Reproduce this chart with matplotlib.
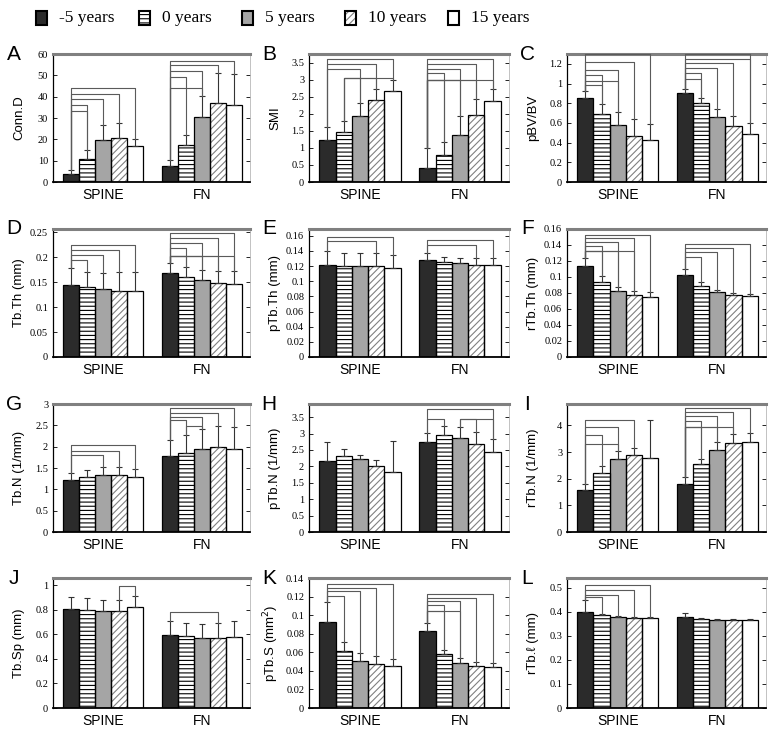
import numpy as np
import matplotlib
matplotlib.use('Agg')
import matplotlib.pyplot as plt
from matplotlib.patches import Rectangle

# groups and series
series = ['-5 years', '0 years', '5 years', '10 years', '15 years']
sites = ['SPINE', 'FN']

# A  Conn.D
A_spine = [3.8, 11.0, 19.5, 20.4, 16.7]
A_spine_err = [2.0, 3.8, 7.3, 7.2, 3.6]
A_fn = [7.5, 17.4, 30.7, 37.2, 36.3]
A_fn_err = [2.6, 4.4, 9.8, 14.0, 14.3]
A_brackets = [(0, 0, 4, 44.0), (0, 0, 3, 41.3), (0, 0, 2, 38.8), (0, 0, 1, 36.1), (0, 0, 1, 33.5),
              (1, 0, 4, 56.9), (1, 0, 3, 55.0), (1, 0, 2, 51.9), (1, 0, 1, 49.4), (1, 0, 2, 44.1)]

# B  SMI
B_spine = [1.23, 1.46, 1.94, 2.41, 2.68]
B_spine_err = [0.37, 0.32, 0.38, 0.30, 0.31]
B_fn = [0.42, 0.78, 1.37, 1.96, 2.36]
B_fn_err = [0.57, 0.40, 0.57, 0.48, 0.35]
B_brackets = [(0, 0, 4, 3.60), (0, 0, 3, 3.45), (0, 0, 2, 3.32), (0, 1, 2, 3.06), (0, 1, 3, 3.06), (0, 1, 4, 3.06),
              (1, 0, 4, 3.60), (1, 0, 3, 3.45), (1, 0, 2, 3.32), (1, 0, 1, 3.19),
              (1, 0, 1, 2.99), (1, 0, 2, 2.99), (1, 0, 3, 2.99), (1, 0, 4, 2.99)]

# C  pBV/BV
C_spine = [0.85, 0.69, 0.575, 0.47, 0.425]
C_spine_err = [0.07, 0.10, 0.14, 0.17, 0.16]
C_fn = [0.90, 0.80, 0.656, 0.568, 0.49]
C_fn_err = [0.04, 0.05, 0.085, 0.10, 0.11]
C_brackets = [(0, 0, 4, 1.30), (0, 0, 3, 1.214), (0, 0, 2, 1.133), (0, 0, 1, 1.082), (0, 0, 2, 1.03), (0, 0, 1, 0.983),
              (1, 0, 4, 1.30), (1, 0, 4, 1.248), (1, 0, 3, 1.207), (1, 0, 2, 1.156), (1, 0, 1, 1.105), (1, 0, 1, 1.05)]

# D  Tb.Th
D_spine = [0.1447, 0.1406, 0.1366, 0.1325, 0.1325]
D_spine_err = [0.034, 0.031, 0.032, 0.038, 0.038]
D_fn = [0.168, 0.161, 0.154, 0.148, 0.147]
D_fn_err = [0.020, 0.019, 0.021, 0.025, 0.025]
D_brackets = [(0, 0, 4, 0.224), (0, 0, 3, 0.214), (0, 0, 2, 0.2045), (0, 0, 1, 0.194),
              (1, 0, 4, 0.248), (1, 0, 3, 0.2398), (1, 0, 2, 0.2296), (1, 0, 1, 0.2194),
              (1, 0, 1, 0.2024), (1, 0, 2, 0.2024), (1, 0, 3, 0.2024), (1, 0, 4, 0.2024)]

# E  pTb.Th
E_spine = [0.122, 0.1198, 0.1198, 0.1198, 0.118]
E_spine_err = [0.018, 0.017, 0.017, 0.017, 0.0173]
E_fn = [0.1278, 0.1256, 0.124, 0.122, 0.122]
E_fn_err = [0.010, 0.007, 0.007, 0.009, 0.009]
E_brackets = [(0, 0, 4, 0.1587), (0, 0, 3, 0.153), (1, 0, 4, 0.155), (1, 0, 3, 0.1485)]

# F  rTb.Th
F_spine = [0.114, 0.094, 0.083, 0.078, 0.0754]
F_spine_err = [0.010, 0.0075, 0.005, 0.005, 0.0055]
F_fn = [0.1025, 0.0888, 0.0817, 0.078, 0.0767]
F_fn_err = [0.0075, 0.0055, 0.0025, 0.0015, 0.002]
F_brackets = [(0, 0, 4, 0.153), (0, 0, 3, 0.1488), (0, 0, 2, 0.1433), (0, 0, 1, 0.1383),
              (0, 0, 1, 0.132), (0, 0, 2, 0.132), (0, 0, 3, 0.132),
              (1, 0, 4, 0.1413), (1, 0, 3, 0.136), (1, 0, 2, 0.1308), (1, 0, 1, 0.1254)]

# G  Tb.N
G_spine = [1.22, 1.283, 1.34, 1.34, 1.30]
G_spine_err = [0.16, 0.16, 0.18, 0.18, 0.165]
G_fn = [1.77, 1.86, 1.95, 1.99, 1.95]
G_fn_err = [0.38, 0.41, 0.47, 0.50, 0.50]
G_brackets = [(0, 0, 4, 2.03), (0, 0, 3, 1.91), (0, 0, 2, 1.795),
              (1, 0, 4, 2.90), (1, 0, 3, 2.78), (1, 0, 2, 2.70), (1, 0, 1, 2.62), (1, 1, 2, 2.49)]

# H  pTb.N
H_spine = [2.17, 2.33, 2.21, 2.01, 1.82]
H_spine_err = [0.58, 0.20, 0.14, 0.18, 0.94]
H_fn = [2.73, 2.96, 2.86, 2.67, 2.45]
H_fn_err = [0.30, 0.27, 0.33, 0.37, 0.39]
H_brackets = [(1, 0, 4, 3.745), (1, 0, 1, 3.44), (1, 2, 3, 3.44), (1, 2, 4, 3.44)]

# I  rTb.N
I_spine = [1.59, 2.22, 2.72, 2.87, 2.79]
I_spine_err = [0.22, 0.24, 0.30, 0.28, 1.40]
I_fn = [1.81, 2.56, 3.09, 3.35, 3.37]
I_fn_err = [0.25, 0.19, 0.29, 0.34, 0.35]
I_brackets = [(0, 0, 3, 4.19), (0, 0, 2, 3.94), (0, 0, 1, 3.65), (0, 0, 2, 3.31),
              (1, 0, 4, 4.65), (1, 0, 3, 4.50), (1, 0, 2, 4.34), (1, 0, 1, 4.16),
              (1, 0, 1, 3.94), (1, 0, 2, 3.94), (1, 0, 3, 3.94)]

# J  Tb.Sp
J_spine = [0.81, 0.80, 0.79, 0.79, 0.82]
J_spine_err = [0.094, 0.097, 0.09, 0.09, 0.09]
J_fn = [0.598, 0.59, 0.573, 0.57, 0.58]
J_fn_err = [0.11, 0.107, 0.11, 0.12, 0.13]
J_brackets = [(0, 3, 4, 0.997), (1, 0, 3, 0.785)]

# K  pTb.S
K_spine = [0.0922, 0.061, 0.051, 0.0477, 0.0449]
K_spine_err = [0.0215, 0.010, 0.008, 0.0087, 0.008]
K_fn = [0.0826, 0.0585, 0.049, 0.0449, 0.0438]
K_fn_err = [0.009, 0.0043, 0.0047, 0.0043, 0.0047]
K_brackets = [(0, 0, 4, 0.1335), (0, 0, 3, 0.129), (0, 0, 2, 0.1256), (0, 0, 1, 0.121),
              (1, 0, 4, 0.1231), (1, 0, 3, 0.1185), (1, 0, 2, 0.1149), (1, 0, 1, 0.1106),
              (1, 0, 1, 0.1048), (1, 0, 2, 0.1048)]

# L  rTb.l
L_spine = [0.40, 0.385, 0.376, 0.372, 0.372]
L_spine_err = [0.05, 0.005, 0.005, 0.005, 0.005]
L_fn = [0.376, 0.37, 0.365, 0.365, 0.365]
L_fn_err = [0.02, 0.005, 0.005, 0.005, 0.005]
L_brackets = [(0, 0, 4, 0.51), (0, 0, 3, 0.49), (0, 0, 2, 0.47), (0, 0, 1, 0.46)]

panels = [
    ('A', 'Conn.D', A_spine, A_spine_err, A_fn, A_fn_err, A_brackets, 60, 10),
    ('B', 'SMI', B_spine, B_spine_err, B_fn, B_fn_err, B_brackets, 3.75, 0.5),
    ('C', 'pBV/BV', C_spine, C_spine_err, C_fn, C_fn_err, C_brackets, 1.3, 0.2),
    ('D', 'Tb.Th (mm)', D_spine, D_spine_err, D_fn, D_fn_err, D_brackets, 0.257, 0.05),
    ('E', 'pTb.Th (mm)', E_spine, E_spine_err, E_fn, E_fn_err, E_brackets, 0.169, 0.02),
    ('F', 'rTb.Th (mm)', F_spine, F_spine_err, F_fn, F_fn_err, F_brackets, 0.16, 0.02),
    ('G', 'Tb.N (1/mm)', G_spine, G_spine_err, G_fn, G_fn_err, G_brackets, 3.0, 0.5),
    ('H', 'pTb.N (1/mm)', H_spine, H_spine_err, H_fn, H_fn_err, H_brackets, 3.9, 0.5),
    ('I', 'rTb.N (1/mm)', I_spine, I_spine_err, I_fn, I_fn_err, I_brackets, 4.8, 1),
    ('J', 'Tb.Sp (mm)', J_spine, J_spine_err, J_fn, J_fn_err, J_brackets, 1.06, 0.2),
    ('K', 'pTb.S (mm$^2$)', K_spine, K_spine_err, K_fn, K_fn_err, K_brackets, 0.14, 0.02),
    ('L', 'rTb.\u2113 (mm)', L_spine, L_spine_err, L_fn, L_fn_err, L_brackets, 0.54, 0.1),
]

# face colour, hatch, hatch colour
styles = [('#2b2b2b', '', 'black'),
          ('white', '----', 'black'),
          ('#a5a5a5', '', 'black'),
          ('white', '/////', '#808080'),
          ('white', '', 'black')]

plt.rcParams['hatch.linewidth'] = 0.8
sans = ['Liberation Sans', 'DejaVu Sans']
serif = ['Liberation Serif', 'DejaVu Serif']

W, H = 777, 732
fig = plt.figure(figsize=(W / 100, H / 100), dpi=100)

cols = [(53, 197), (309, 200), (567, 199)]  # left, width in px
rows = [(54, 128), (229, 128), (404, 128), (578, 130)]  # top, height in px

bw = 0.163
offsets = (np.arange(5) - 2) * bw

for n, (letter, ylabel, sp, sp_err, fn, fn_err, brackets, ymax, step) in enumerate(panels):
    left, width = cols[n % 3]
    top, height = rows[n // 3]
    ax = fig.add_axes([left / W, 1 - (top + height) / H, width / W, height / H])

    vals = [sp, fn]
    errs = [sp_err, fn_err]
    for k in range(5):
        face, hatch, hcol = styles[k]
        x = np.arange(2) + offsets[k]
        h = [sp[k], fn[k]]
        ax.bar(x, h, bw, color=face, edgecolor=hcol, hatch=hatch, lw=0, zorder=2)
        ax.bar(x, h, bw, fill=False, edgecolor='black', lw=0.9, zorder=3)
        ax.errorbar(x, h, yerr=[[0, 0], [sp_err[k], fn_err[k]]], fmt='none', ecolor='#333333',
                    elinewidth=0.8, capsize=2, capthick=0.8, zorder=4)

    # significance brackets
    for g, i, j, lev in brackets:
        xi, xj = g + offsets[i], g + offsets[j]
        yi = vals[g][i] + errs[g][i]
        yj = vals[g][j] + errs[g][j]
        ax.plot([xi, xi, xj, xj], [yi, lev, lev, yj], color='#5a5a5a', lw=0.8, zorder=5, clip_on=False)

    ax.set_xlim(-0.51, 1.49)
    ax.set_ylim(0, ymax)
    ticks = np.round(np.arange(0, ymax + step * 0.01, step), 4)
    ax.set_yticks(ticks)
    ax.set_yticklabels([f'{t:g}' for t in ticks], fontfamily=serif, fontsize=7.5)
    ax.set_xticks([0, 1])
    ax.set_xticklabels(sites, fontfamily=sans, fontsize=10)
    ax.tick_params(axis='y', direction='in', length=3, width=0.6, right=True, labelright=False)
    ax.tick_params(axis='x', length=0, pad=4)

    ax.spines['top'].set_color('#808080')
    ax.spines['top'].set_linewidth(2.2)
    ax.spines['right'].set_color('#aaaaaa')
    ax.spines['right'].set_linewidth(0.5)
    ax.spines['bottom'].set_linewidth(1.3)
    ax.spines['left'].set_linewidth(0.9)

    ax.set_ylabel(ylabel, fontfamily=sans, fontsize=9.5)
    ax.yaxis.set_label_coords(-0.14, 0.5)
    ax.text(-0.2, 1.0, letter, transform=ax.transAxes, fontfamily=sans, fontsize=15,
            ha='center', va='center')

# legend across the top
for k, name in enumerate(series):
    face, hatch, hcol = styles[k]
    x0 = 36 + 103 * k
    sq = [x0 / W, 1 - 25 / H, 11 / W, 14 / H]
    fig.patches.append(Rectangle(sq[:2], sq[2], sq[3], transform=fig.transFigure, facecolor=face,
                                 edgecolor=hcol, hatch=hatch, lw=0))
    fig.patches.append(Rectangle(sq[:2], sq[2], sq[3], transform=fig.transFigure, fill=False,
                                 edgecolor='black', lw=1.5))
    fig.text((x0 + 23) / W, 1 - 18 / H, name, fontfamily=serif, fontsize=12.5, va='center')

fig.savefig('out.png', dpi=100)
